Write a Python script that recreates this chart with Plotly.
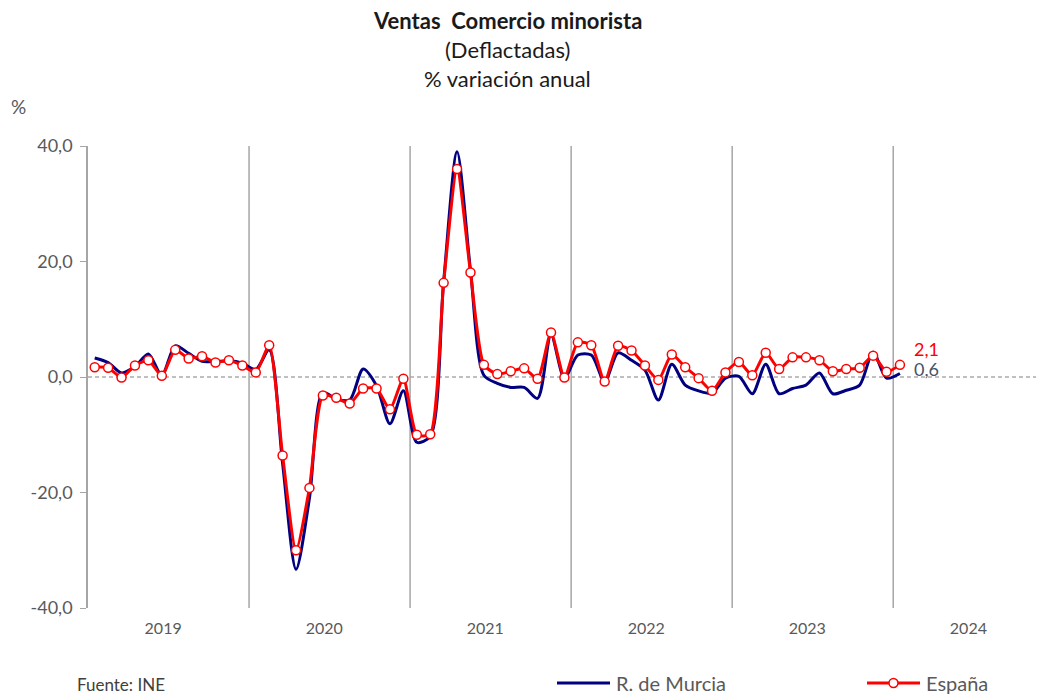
import plotly.graph_objects as go

# ---- data ----
years = ["2019", "2020", "2021", "2022", "2023", "2024"]
y_ticks = [-40, -20, 0, 20, 40]
espana = [1.7, 1.6, -0.1, 2.0, 2.9, 0.2, 4.7, 3.2, 3.6, 2.5, 2.9, 2.0,
          0.8, 5.5, -13.6, -30.0, -19.2, -3.2, -3.6, -4.6, -2.0, -2.0, -5.6, -0.3,
          -10.0, -9.9, 16.3, 36.0, 18.1, 2.1, 0.5, 1.0, 1.5, -0.3, 7.7, -0.1,
          6.0, 5.5, -0.8, 5.4, 4.6, 2.0, -0.5, 3.9, 1.7, -0.2, -2.4, 0.8,
          2.6, 0.3, 4.2, 1.4, 3.4, 3.4, 2.9, 1.0, 1.4, 1.6, 3.7, 0.9,
          2.1]
murcia = [3.3, 2.5, 0.7, 1.8, 4.0, 0.3, 5.4, 4.1, 2.7, 2.7, 2.8, 2.4,
          1.3, 4.7, -15.0, -33.3, -21.0, -2.7, -3.8, -4.0, 1.4, -1.5, -8.1, -2.4,
          -11.3, -10.3, 16.5, 39.0, 18.5, 0.3, -1.1, -1.8, -1.8, -3.7, 7.3, -0.2,
          3.8, 3.8, -0.8, 4.2, 2.9, 1.2, -4.0, 2.2, -1.4, -2.4, -2.8, -0.2,
          0.1, -2.9, 2.2, -2.9, -2.0, -1.4, 0.7, -2.9, -2.3, -1.4, 4.3, -0.2,
          0.6]
series_names = ["R. de Murcia", "España"]
months = list(range(len(espana)))

FONT = "Lato"
GRAY = "#595959"
NAVY = "#000080"
RED = "#FF0000"

# page body has an 8px margin: work in screenshot pixels, shift figure by it
OFF = 8
W, H = 1044 - OFF, 694 - OFF
PLOT_L, PLOT_R, PLOT_TOP, PLOT_BOT = 88, 1043, 146, 608   # screenshot pixels
PW, PH = PLOT_R - PLOT_L, PLOT_BOT - PLOT_TOP

def xp(px):
    return (px - PLOT_L) / PW

def yp(py):
    return (PLOT_BOT - py) / PH

def fmt(v):
    return f"{v:.1f}".replace(".", ",")

fig = go.Figure()
fig.add_trace(go.Scatter(
    x=months, y=murcia, name=series_names[0], mode="lines", showlegend=False,
    line=dict(color=NAVY, width=3, shape="spline", smoothing=0.8)))
fig.add_trace(go.Scatter(
    x=months, y=espana, name=series_names[1], mode="lines+markers", showlegend=False,
    line=dict(color=RED, width=3, shape="spline", smoothing=0.6),
    marker=dict(symbol="circle", size=9, color="white",
                line=dict(color=RED, width=1.5))))

# year separators
for k in range(1, len(years)):
    fig.add_shape(type="line", xref="x", yref="y", x0=12 * k - 0.5, x1=12 * k - 0.5,
                  y0=-40, y1=40, line=dict(color="#A6A6A6", width=1.5), layer="below")
# dashed zero line
fig.add_shape(type="line", xref="paper", yref="y", x0=0, x1=1, y0=0, y1=0,
              line=dict(color="#808080", width=1, dash="4px,3px"), layer="below")

fig.add_annotation(x=months[-1] + 0.9, y=espana[-1] + 2.7, xref="x", yref="y",
                   text=fmt(espana[-1]), showarrow=False, xanchor="left", yanchor="middle",
                   font=dict(family=FONT, size=18, color=RED))
fig.add_annotation(x=months[-1] + 0.9, y=murcia[-1] + 0.8, xref="x", yref="y",
                   text=fmt(murcia[-1]), showarrow=False, xanchor="left", yanchor="middle",
                   font=dict(family=FONT, size=18, color="#44546A"))

# titles
title_x = xp(507)
for txt, py in [("<b>Ventas  Comercio minorista</b>", 20), ("(Deflactadas)", 49),
                ("% variación anual", 79)]:
    fig.add_annotation(x=title_x, y=yp(py), xref="paper", yref="paper", text=txt,
                       showarrow=False, xanchor="center", yanchor="middle",
                       font=dict(family=FONT, size=22, color="#1a1a1a"))

fig.add_annotation(x=xp(18), y=yp(106), xref="paper", yref="paper", text="%",
                   showarrow=False, xanchor="center", yanchor="middle",
                   font=dict(family=FONT, size=19, color=GRAY))
fig.add_annotation(x=xp(75), y=yp(684), xref="paper", yref="paper",
                   text="Fuente: INE", showarrow=False, xanchor="left", yanchor="middle",
                   font=dict(family=FONT, size=17, color="#404040"))

# manual legend
LEG_Y = 683
for name, color, x0, marker in [(series_names[0], NAVY, 557, False),
                                (series_names[1], RED, 867, True)]:
    fig.add_shape(type="line", xref="paper", yref="paper", x0=xp(x0), x1=xp(x0 + 53),
                  y0=yp(LEG_Y), y1=yp(LEG_Y), line=dict(color=color, width=3))
    if marker:
        cx = x0 + 26.5
        fig.add_shape(type="circle", xref="paper", yref="paper",
                      x0=xp(cx - 4.5), x1=xp(cx + 4.5), y0=yp(LEG_Y + 4.5), y1=yp(LEG_Y - 4.5),
                      fillcolor="white", line=dict(color=color, width=1.5))
    fig.add_annotation(x=xp(x0 + 57), y=yp(LEG_Y), xref="paper", yref="paper", text=name,
                       showarrow=False, xanchor="left", yanchor="middle",
                       font=dict(family=FONT, size=20, color=GRAY))

fig.update_layout(
    width=W, height=H,
    margin=dict(l=PLOT_L - OFF, r=W - (PLOT_R - OFF), t=PLOT_TOP - OFF, b=H - (PLOT_BOT - OFF), pad=0),
    paper_bgcolor="white", plot_bgcolor="white",
    separators=",.",
    font=dict(family=FONT, color=GRAY, size=16),
    showlegend=False,
    xaxis=dict(range=[-0.5, 70.66], showgrid=False, zeroline=False, showline=False,
               tickmode="array", tickvals=[12 * i + 5.1 for i in range(len(years))],
               ticktext=years, ticks="", ticklabelstandoff=9,
               tickfont=dict(family=FONT, size=16, color=GRAY)),
    yaxis=dict(range=[-40, 40], showgrid=False, zeroline=False, showline=True,
               linecolor="#A6A6A6", linewidth=1.5, ticks="outside", ticklen=6,
               tickcolor="#A6A6A6", tickmode="array", tickvals=y_ticks,
               ticktext=[fmt(v) for v in y_ticks], ticklabelstandoff=4,
               tickfont=dict(family=FONT, size=18, color=GRAY)),
)

fig.write_html("out.html")
